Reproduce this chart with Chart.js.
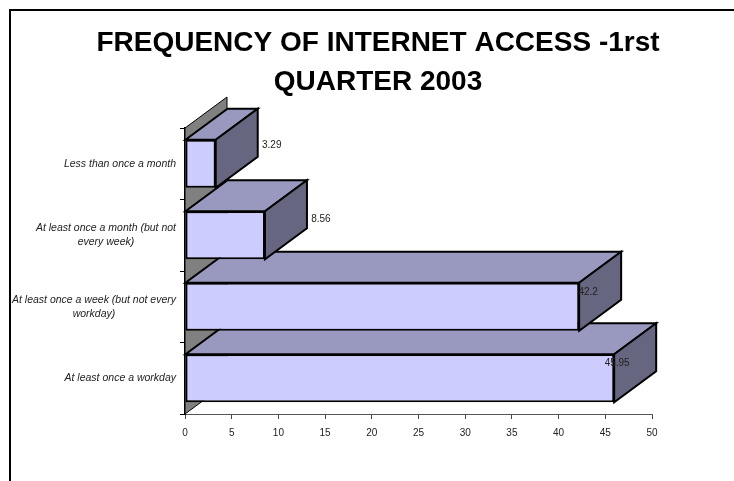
<!DOCTYPE html>
<html>
<head>
<meta charset="utf-8">
<script src="https://cdn.jsdelivr.net/npm/chart.js@4.4.1/dist/chart.umd.min.js"></script>
<style>
  html, body { margin: 0; padding: 0; background: #fff; }
  #c { display: block; }
</style>
</head>
<body>
<canvas id="c" width="734" height="481"></canvas>
<script>
// ---- data ----
const titleLines = ["FREQUENCY OF INTERNET ACCESS -1rst", "QUARTER 2003"];
const categories = [
  ["Less than once a month"],
  ["At least once a month (but not", "every week)"],
  ["At least once a week (but not every", "workday)"],
  ["At least once a workday"]
];
const values = [3.29, 8.56, 42.2, 45.95];
const valueLabels = ["3.29", "8.56", "42.2", "45.95"];
const xTickMin = 0, xTickMax = 50, xTickStep = 5;

// ---- styles ----
const FONT = '"Liberation Sans", Arial, sans-serif';
const DEPTH_DX = 42, DEPTH_DY = -31;
const FRONT = '#CCCCFF', TOP = '#9999BF', SIDE = '#666680', WALL = '#808080';
const LABEL_DX = [56, 56, 9, 3];
const LABEL_DY = [-19, -16, -15, -15];

const bar3d = {
  id: 'bar3d',
  beforeDraw(chart) {
    const ctx = chart.ctx;
    ctx.save();
    ctx.fillStyle = '#fff';
    ctx.fillRect(0, 0, chart.width, chart.height);
    ctx.strokeStyle = '#000';
    ctx.lineWidth = 2;
    ctx.strokeRect(10, 10, chart.width + 100, chart.height + 100);
    ctx.restore();
  },
  beforeDatasetsDraw(chart) {
    const ctx = chart.ctx;
    const xs = chart.scales.x, ca = chart.chartArea;
    const x0 = xs.getPixelForValue(0);
    ctx.save();
    ctx.lineJoin = 'miter';
    // side wall
    ctx.beginPath();
    ctx.moveTo(x0, ca.top);
    ctx.lineTo(x0 + DEPTH_DX, ca.top + DEPTH_DY);
    ctx.lineTo(x0 + DEPTH_DX, ca.bottom + DEPTH_DY);
    ctx.lineTo(x0, ca.bottom);
    ctx.closePath();
    ctx.fillStyle = WALL;
    ctx.fill();
    ctx.strokeStyle = '#000';
    ctx.lineWidth = 1;
    ctx.stroke();
    // top and side faces, drawn from the lowest bar upward
    const meta = chart.getDatasetMeta(0);
    for (let i = meta.data.length - 1; i >= 0; i--) {
      const b = meta.data[i];
      const p = b.getProps(['x', 'y', 'base', 'height'], true);
      const top = p.y - p.height / 2, bot = p.y + p.height / 2;
      ctx.lineWidth = 2;
      ctx.strokeStyle = '#000';
      ctx.beginPath();
      ctx.moveTo(p.base, top);
      ctx.lineTo(p.x, top);
      ctx.lineTo(p.x + DEPTH_DX, top + DEPTH_DY);
      ctx.lineTo(p.base + DEPTH_DX, top + DEPTH_DY);
      ctx.closePath();
      ctx.fillStyle = TOP;
      ctx.fill();
      ctx.stroke();
      ctx.beginPath();
      ctx.moveTo(p.x, top);
      ctx.lineTo(p.x + DEPTH_DX, top + DEPTH_DY);
      ctx.lineTo(p.x + DEPTH_DX, bot + DEPTH_DY);
      ctx.lineTo(p.x, bot);
      ctx.closePath();
      ctx.fillStyle = SIDE;
      ctx.fill();
      ctx.stroke();
    }
    ctx.restore();
  },
  afterDatasetsDraw(chart) {
    const ctx = chart.ctx;
    const ys = chart.scales.y, ca = chart.chartArea;
    const meta = chart.getDatasetMeta(0);
    ctx.save();
    // value labels
    ctx.font = '10px ' + FONT;
    ctx.fillStyle = '#222';
    ctx.textAlign = 'center';
    ctx.textBaseline = 'middle';
    meta.data.forEach((b, i) => {
      const p = b.getProps(['x', 'y'], true);
      ctx.fillText(valueLabels[i], p.x + LABEL_DX[i], p.y + LABEL_DY[i]);
    });
    // category labels: block right-aligned, lines centered
    ctx.font = 'italic 10.5px ' + FONT;
    ctx.fillStyle = '#222';
    const right = ca.left - 9, lh = 14;
    chart.data.labels.forEach((lines, i) => {
      const yc = ys.getPixelForValue(i);
      const w = Math.max(...lines.map(l => ctx.measureText(l).width));
      const cx = right - w / 2;
      const y0 = yc - (lines.length - 1) * lh / 2;
      lines.forEach((l, k) => ctx.fillText(l, cx, y0 + k * lh));
    });
    ctx.restore();
  }
};

new Chart(document.getElementById('c'), {
  type: 'bar',
  data: {
    labels: categories,
    datasets: [{
      data: values,
      backgroundColor: FRONT,
      borderColor: '#000',
      borderWidth: 2,
      borderSkipped: false,
      barPercentage: 0.67,
      categoryPercentage: 1
    }]
  },
  options: {
    indexAxis: 'y',
    responsive: false,
    animation: false,
    devicePixelRatio: 1,
    layout: { padding: { left: 22, right: 0, top: 10, bottom: 37 } },
    plugins: {
      legend: { display: false },
      tooltip: { enabled: false },
      title: {
        display: true,
        text: titleLines,
        color: '#000',
        font: { family: FONT, size: 28, weight: 'bold', lineHeight: 1.375 },
        padding: { top: 14.25, bottom: 26.75 }
      }
    },
    scales: {
      x: {
        min: xTickMin, max: xTickMax,
        ticks: { stepSize: xTickStep, color: '#222', font: { family: FONT, size: 10 }, padding: 8 },
        grid: { drawOnChartArea: false, drawTicks: true, tickLength: 5, color: '#444' },
        border: { display: true, color: '#555', width: 1 },
        afterFit(s) { s.height = 30; }
      },
      y: {
        ticks: { display: false },
        grid: { drawOnChartArea: false, drawTicks: true, tickLength: 5, color: '#000', offset: true },
        border: { display: true, color: '#000', width: 1.5 },
        afterFit(s) { s.width = 163; }
      },
      yr: {
        type: 'linear',
        position: 'right',
        display: true,
        ticks: { display: false },
        grid: { display: false },
        border: { display: false },
        afterFit(s) { s.width = 82; }
      }
    }
  },
  plugins: [bar3d]
});
</script>
</body>
</html>
